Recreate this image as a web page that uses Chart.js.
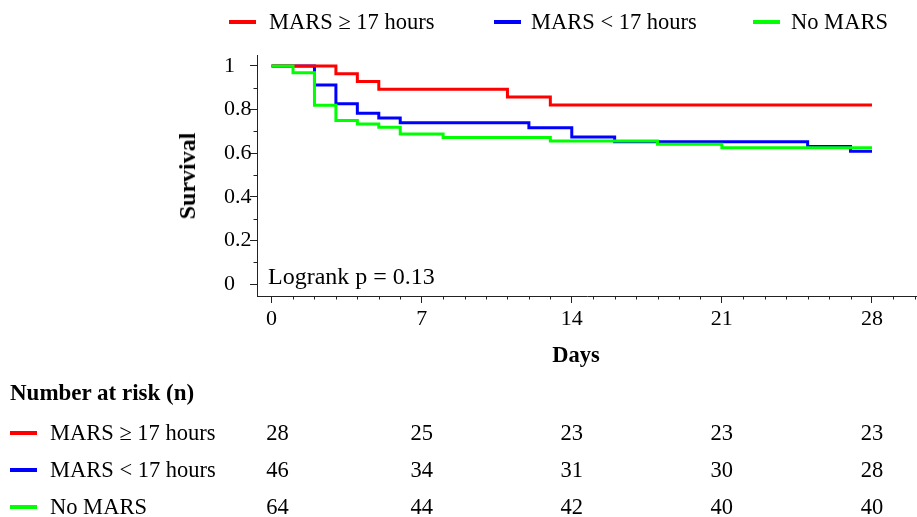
<!DOCTYPE html>
<html><head><meta charset="utf-8">
<script src="https://cdn.jsdelivr.net/npm/chart.js@4.4.1/dist/chart.umd.min.js"></script>
<style>
html,body{margin:0;padding:0;background:#fff;}
#wrap{position:relative;width:917px;height:517px;overflow:hidden;font-family:"Liberation Serif","Times New Roman",serif;color:#000;}
#c{position:absolute;left:0;top:0;}
.t{position:absolute;white-space:nowrap;font-size:22.5px;line-height:26px;}
.b{font-weight:bold;}
.sw{position:absolute;height:4px;width:27px;}
.num{transform:translateX(-50%);}
.ctr{transform:translateX(-50%);}
.rot{transform:translate(-50%,-50%) rotate(-90deg);}
</style></head><body>
<div id="wrap"><canvas id="c" width="917" height="517"></canvas></div>
<script>
// ---- data ----
const seriesNames = ['MARS \u2265 17 hours', 'MARS < 17 hours', 'No MARS'];
const seriesColors = ['#ff0000', '#0000ff', '#00ff00'];
const redDays   = [0, 3, 4, 5, 11, 13, 28];
const redSurv   = [1, 0.964, 0.929, 0.893, 0.857, 0.821, 0.821];
const blueDays  = [0, 2, 3, 4, 5, 6, 12, 14, 16, 25, 27, 28];
const blueSurv  = [1, 0.913, 0.826, 0.783, 0.761, 0.739, 0.717, 0.674, 0.652, 0.630, 0.609, 0.609];
const greenDays = [0, 1, 2, 3, 4, 5, 6, 8, 13, 18, 21, 28];
const greenSurv = [1, 0.969, 0.82, 0.75, 0.734, 0.719, 0.6875, 0.672, 0.656, 0.641, 0.625, 0.625];
const xTickValues = [0, 7, 14, 21, 28];
const xTickLabels = ['0', '7', '14', '21', '28'];
const yTickValues = [0, 0.2, 0.4, 0.6, 0.8, 1];
const yTickLabels = ['0', '0.2', '0.4', '0.6', '0.8', '1'];
const yMinorValues = [0.1, 0.3, 0.5, 0.7, 0.9];
const riskDays  = [0, 7, 14, 21, 28];
const riskRed   = [28, 25, 23, 23, 23];
const riskBlue  = [46, 34, 31, 30, 28];
const riskGreen = [64, 44, 42, 40, 40];
const riskTitle = 'Number at risk (n)';
const logrankText = 'Logrank p = 0.13';
const xTitle = 'Days';
const yTitle = 'Survival';

const FONT = '"Liberation Serif","Times New Roman",serif';
Chart.defaults.font.family = FONT;
Chart.defaults.color = '#000';

const xMinorValues = [];
for (let d = 1; d <= 30; d++) if (!xTickValues.includes(d)) xMinorValues.push(d);

const minorTicks = {
  id: 'minorTicks',
  afterDraw(chart) {
    const {ctx, scales: {x, y}} = chart;
    ctx.save();
    ctx.strokeStyle = '#222'; ctx.lineWidth = 1;
    ctx.beginPath();
    for (const d of xMinorValues) {
      const px = Math.round(x.getPixelForValue(d)) + 0.5;
      ctx.moveTo(px, x.top); ctx.lineTo(px, x.top + 3.5);
    }
    for (const v of yMinorValues) {
      const py = Math.round(y.getPixelForValue(v)) + 0.5;
      ctx.moveTo(y.right - 3.5, py); ctx.lineTo(y.right, py);
    }
    ctx.stroke();
    ctx.restore();
  }
};

function pts(xs, ys) { return xs.map((d, i) => ({x: d, y: ys[i]})); }

const chart = new Chart(document.getElementById('c'), {
  type: 'line',
  data: {
    datasets: [
      {label: seriesNames[0], data: pts(redDays, redSurv), borderColor: seriesColors[0], order: 1},
      {label: seriesNames[1], data: pts(blueDays, blueSurv), borderColor: seriesColors[1], order: 2},
      {label: seriesNames[2], data: pts(greenDays, greenSurv), borderColor: seriesColors[2], order: 0}
    ].map(ds => Object.assign(ds, {stepped: 'before', borderWidth: 3, pointRadius: 0, fill: false, tension: 0}))
  },
  options: {
    responsive: false,
    animation: false,
    events: [],
    layout: {padding: {left: 224, top: 55, right: 0, bottom: 149}},
    plugins: {legend: {display: false}, tooltip: {enabled: false}},
    scales: {
      x: {
        type: 'linear', min: -0.68, max: 30.1,
        afterBuildTicks: s => { s.ticks = xTickValues.map(v => ({value: v})); },
        afterFit: s => { s.height = 72; },
        ticks: {autoSkip: false, maxRotation: 0, padding: 3, color: '#000',
          font: {size: 22}, callback: (v, i) => xTickLabels[i]},
        grid: {drawOnChartArea: false, drawTicks: true, tickLength: 7, tickColor: '#222'},
        border: {display: true, color: '#222', width: 1}
      },
      y: {
        type: 'linear', min: -0.055, max: 1.05,
        afterBuildTicks: s => { s.ticks = yTickValues.map(v => ({value: v})); },
        afterFit: s => { s.width = 33; },
        ticks: {crossAlign: 'far', padding: 0, color: '#000', font: {size: 22},
          callback: (v, i) => yTickLabels[i]},
        grid: {drawOnChartArea: false, drawTicks: true, tickLength: 7, tickColor: '#222'},
        border: {display: true, color: '#222', width: 1}
      }
    }
  },
  plugins: [minorTicks]
});

// ---- HTML text overlays ----
const wrap = document.getElementById('wrap');
function addText(txt, left, cy, cls, size) {
  const d = document.createElement('div');
  d.className = 't ' + (cls || '');
  d.textContent = txt;
  if (size) d.style.fontSize = size + 'px';
  d.style.left = left + 'px';
  d.style.top = (cy - 13) + 'px';
  wrap.appendChild(d);
  return d;
}
function addSwatch(color, left, cy) {
  const s = document.createElement('div');
  s.className = 'sw';
  s.style.background = color;
  s.style.left = left + 'px';
  s.style.top = (cy - 2) + 'px';
  wrap.appendChild(s);
}
// legend
const legendTextX = [269, 531, 791];
const legendSwatchX = [229, 494, 753];
seriesNames.forEach((n, i) => {
  addSwatch(seriesColors[i], legendSwatchX[i], 22);
  addText(n, legendTextX[i], 22);
});
// axis titles
const yt = addText(yTitle, 187, 176, 'b rot', 24);
yt.style.top = '176px';
addText(xTitle, 576, 355, 'b ctr', 22.5);
// logrank
addText(logrankText, 268, 276, '', 24);
// risk table
addText(riskTitle, 10, 393, 'b', 23);
const riskRows = [riskRed, riskBlue, riskGreen];
const rowY = [433, 470, 507];
const colShift = [6, 0, 0, 0, 0];
const xs = chart.scales.x;
riskRows.forEach((row, r) => {
  addSwatch(seriesColors[r], 10, rowY[r]);
  addText(seriesNames[r], 50, rowY[r]);
  row.forEach((v, c) => {
    addText(String(v), xs.getPixelForValue(riskDays[c]) + colShift[c], rowY[r], 'num');
  });
});
</script>
</body></html>
